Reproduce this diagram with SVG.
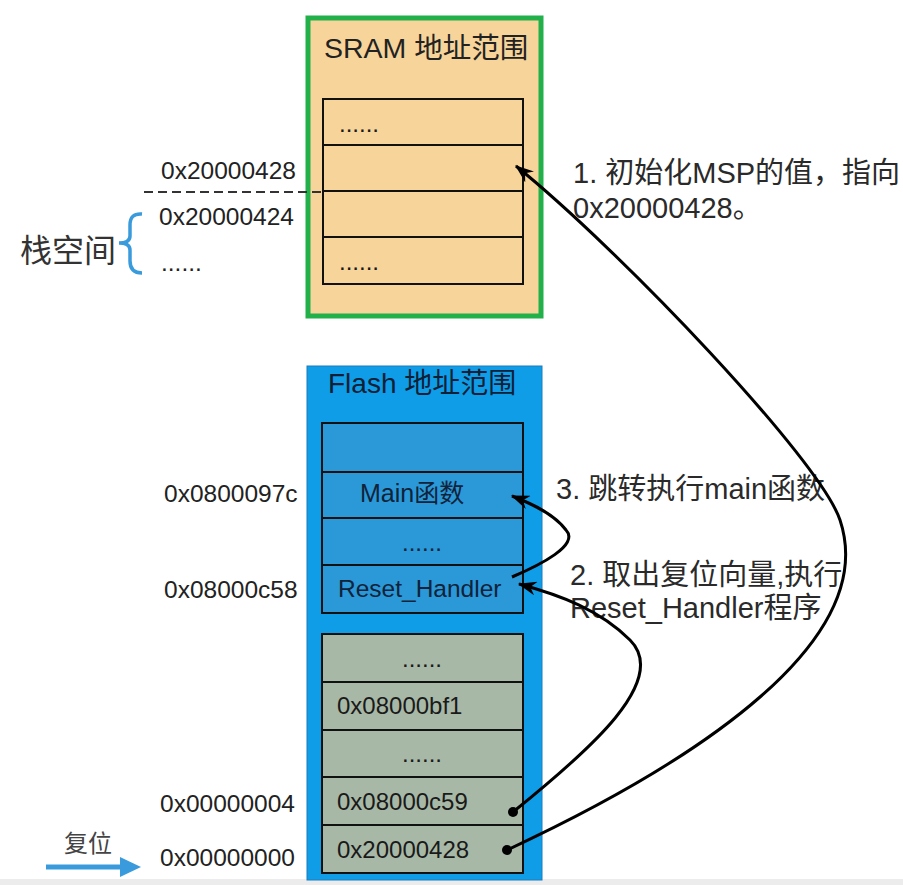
<svg xmlns="http://www.w3.org/2000/svg" width="903" height="885" viewBox="0 0 903 885">
<defs>
<style>
text{font-family:"Liberation Sans","Noto Sans CJK SC",sans-serif;}
.lbl{font-size:24.5px;fill:#222;}
.rt{font-size:29px;fill:#2a2a2a;}
.cell{stroke:#111;stroke-width:2;}
.sr{fill:#F6D49A;}
.bl{fill:#2B98D8;}
.gr{fill:#A8B8A6;}
.ctx{font-size:24px;fill:#1a1a1a;}
.conn{fill:none;stroke:#000;stroke-width:3;}
</style>
<marker id="ah" viewBox="0 0 16 12" refX="15" refY="6" markerWidth="19" markerHeight="14" markerUnits="userSpaceOnUse" orient="auto">
<path d="M0,0 L16,6 L0,12 L5,6 z" fill="#000"/>
</marker>
</defs>
<rect x="0" y="0" width="903" height="885" fill="#fff"/>
<rect x="0" y="879" width="903" height="6" fill="#ECECEC"/>

<g id="sram">
<rect x="308" y="18" width="233" height="298" fill="#F6D49A" stroke="#22B04B" stroke-width="5"/>
<text x="324" y="58" style="font-size:28.5px;fill:#222">SRAM 地址范围</text>
<rect class="cell sr" x="323" y="99" width="200" height="46"/>
<rect class="cell sr" x="323" y="145" width="200" height="46"/>
<rect class="cell sr" x="323" y="191" width="200" height="46"/>
<rect class="cell sr" x="323" y="237" width="200" height="47"/>
<text class="ctx" x="339" y="132">......</text>
<text class="ctx" x="339" y="270">......</text>
</g>

<g id="stack-labels">
<text class="lbl" x="161" y="179">0x20000428</text>
<line x1="144" y1="192" x2="322" y2="192" stroke="#333" stroke-width="2" stroke-dasharray="9 5"/>
<text class="lbl" x="159" y="225">0x20000424</text>
<text class="lbl" x="161" y="271">......</text>
<path d="M142,214 Q130,213 130,225 L130,236 Q130,243 119,243 Q130,243 130,250 L130,261 Q130,273 142,273" fill="none" stroke="#3A9BDC" stroke-width="3.5"/>
<text x="20" y="262" style="font-size:32px;fill:#333">栈空间</text>
</g>

<g id="flash">
<rect x="307" y="366" width="235" height="514" fill="#0E9DE6" stroke="#1A7DBE" stroke-width="1"/>
<text x="328" y="393" style="font-size:28px;fill:#0F2036">Flash 地址范围</text>
<rect class="cell bl" x="322" y="423" width="201" height="49"/>
<rect class="cell bl" x="322" y="472" width="201" height="46"/>
<rect class="cell bl" x="322" y="518" width="201" height="47"/>
<rect class="cell bl" x="322" y="565" width="201" height="48"/>
<text class="ctx" x="360" y="502" style="fill:#10233A;font-size:25px">Main函数</text>
<text class="ctx" x="402" y="551" style="fill:#10233A">......</text>
<text class="ctx" x="338" y="597" style="fill:#10233A;font-size:24.5px">Reset_Handler</text>
<rect class="cell gr" x="322" y="634" width="201" height="48"/>
<rect class="cell gr" x="322" y="682" width="201" height="48"/>
<rect class="cell gr" x="322" y="730" width="201" height="47"/>
<rect class="cell gr" x="322" y="777" width="201" height="48"/>
<rect class="cell gr" x="322" y="825" width="201" height="48"/>
<text class="ctx" x="402" y="667">......</text>
<text class="ctx" x="337" y="714">0x08000bf1</text>
<text class="ctx" x="402" y="762">......</text>
<text class="ctx" x="337" y="810">0x08000c59</text>
<text class="ctx" x="337" y="858">0x20000428</text>
</g>

<g id="flash-labels">
<text class="lbl" x="164" y="502">0x0800097c</text>
<text class="lbl" x="164" y="598">0x08000c58</text>
<text class="lbl" x="160" y="812">0x00000004</text>
<text class="lbl" x="160" y="866">0x00000000</text>
</g>

<g id="reset">
<text x="64" y="852" style="font-size:24px;fill:#444">复位</text>
<line x1="46" y1="867" x2="124" y2="867" stroke="#3A9BDC" stroke-width="5"/>
<path d="M120,857 L141,867 L120,877 z" fill="#3A9BDC"/>
</g>

<g id="notes">
<text class="rt" x="573" y="183">1. 初始化MSP的值，指向</text>
<text class="rt" x="573" y="218">0x20000428。</text>
<text class="rt" x="556" y="499">3. 跳转执行main函数</text>
<text class="rt" x="570" y="585">2. 取出复位向量,执行</text>
<text class="rt" x="570" y="618">Reset_Handler程序</text>
</g>

<g id="connectors">
<path class="conn" d="M507,850 C700,760 880,640 840,520 C820,460 620,250 516,166" marker-end="url(#ah)"/>
<path class="conn" d="M513,812 C590,750 670,680 630,640 C600,610 560,595 519,584" marker-end="url(#ah)"/>
<path class="conn" d="M512,577 C540,565 580,545 566,530 C555,515 535,505 512,496" marker-end="url(#ah)"/>
<circle cx="513" cy="812" r="5" fill="#000"/>
<circle cx="507" cy="850" r="5" fill="#000"/>
</g>
</svg>
